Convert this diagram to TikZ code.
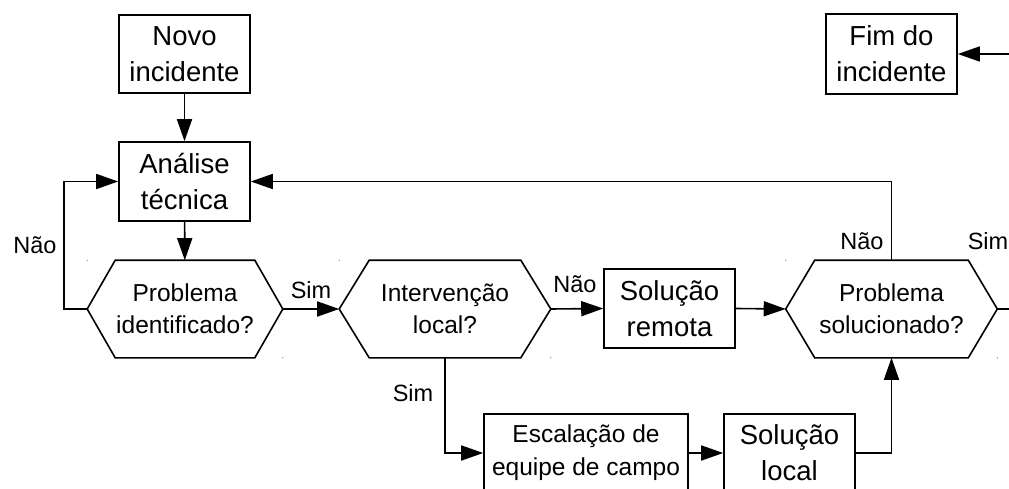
\documentclass[tikz,border=0pt]{standalone}
\usepackage{fontspec}
\setmainfont{Liberation Sans}
\usetikzlibrary{arrows.meta}

\begin{document}
\begin{tikzpicture}[x=1pt,y=-1pt,line width=1.6pt,
    caixa/.style={draw,align=center,inner sep=0pt,minimum width=131pt,minimum height=79pt,font=\fontsize{27.5}{36}\selectfont},
    hexa/.style={align=center,inner sep=0pt,minimum height=96pt,font=\fontsize{24.5}{32}\selectfont},
    rotulo/.style={inner sep=0pt,font=\fontsize{23.5}{28}\selectfont},
    seta/.style={-{Triangle[length=22pt,width=15pt]}}]
  \useasboundingbox (0,0) rectangle (1009,489);
  % caixas
  \node[caixa,minimum height=78pt] (novo) at (184.5,54) {Novo\\incidente};
  \node[caixa] (anal) at (184.5,181.5) {Análise\\técnica};
  \node[caixa] (remota) at (669.5,308.5) {Solução\\remota};
  \node[caixa,minimum height=80pt] (fim) at (891.5,54) {Fim do\\incidente};
  \node[caixa,minimum width=204pt,minimum height=78pt,font=\fontsize{24.5}{33}\selectfont] (escal) at (586,453) {Escalação de\\equipe de campo};
  \node[caixa,minimum height=78pt] (local) at (789.5,453) {Solução\\local};
  % decisoes
  \node[hexa,minimum width=194pt] (pi) at (185,309) {Problema\\identificado?};
  \node[hexa,minimum width=210pt] (il) at (445,309) {Intervenção\\local?};
  \node[hexa,minimum width=210pt] (ps) at (891.5,309) {Problema\\solucionado?};
  \foreach \h/\d in {pi/28,il/30,ps/29}{
    \draw ([xshift=\d pt]\h.north west) -- ([xshift=-\d pt]\h.north east) -- (\h.east)
      -- ([xshift=-\d pt]\h.south east) -- ([xshift=\d pt]\h.south west) -- (\h.west) -- cycle;
    \fill[gray] (\h.north west) circle (0.7pt) (\h.south east) circle (0.7pt);
  }
  % ligacoes
  \draw[seta] (novo) -- (anal);
  \draw[seta] (anal) -- (pi);
  \draw[seta] (pi.west) -- ++(-23,0) |- (anal.west);
  \draw[seta] (pi.east) -- (il.west);
  \draw[seta] (il.east) -- (remota.west);
  \draw[seta] (remota.east) -- (ps.west);
  \draw[seta] (ps.north) |- (anal.east);
  \draw[seta] (ps.east) -- ++(40,0) |- (fim.east);
  \draw[seta] (il.south) |- (escal.west);
  \draw[seta] (escal) -- (local);
  \draw[seta] (local.east) -| (ps.south);
  % rotulos
  \node[rotulo] (nao1) at (35,245) {Não};
  \node[rotulo] (sim1) at (311,290) {Sim};
  \node[rotulo] (nao2) at (575,284) {Não};
  \node[rotulo] (sim2) at (413,393) {Sim};
  \node[rotulo] (nao3) at (862,241) {Não};
  \node[rotulo] (sim3) at (988,241) {Sim};
\end{tikzpicture}
\end{document}
